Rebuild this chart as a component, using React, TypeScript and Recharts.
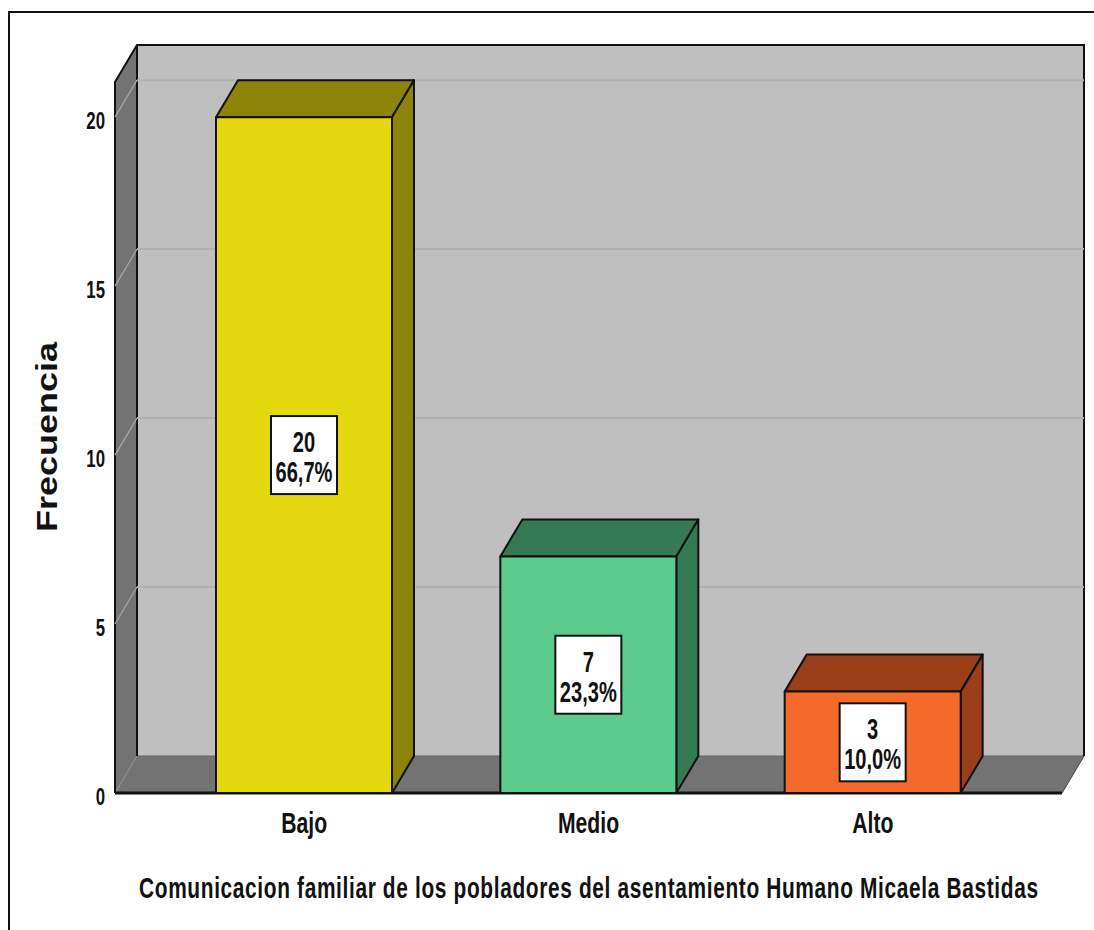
import React from "react";
import { ComposedChart, Bar, XAxis, YAxis, ReferenceArea, ReferenceLine, LabelList } from "recharts";

const categories = ["Bajo", "Medio", "Alto"];
const counts = [20, 7, 3];
const percents = ["66,7%", "23,3%", "10,0%"];
const yTicks = [0, 5, 10, 15, 20];
const yMax = 21.04;
const gridValues = [5, 10, 15, 20];
const frontColors = ["#e4d80e", "#5ccb8d", "#f46a2b"];
const darkColors = ["#8e8407", "#367a55", "#9a3f19"];
const yTitle = "Frecuencia";
const xTitle = "Comunicacion familiar de los pobladores del asentamiento Humano Micaela Bastidas";

const table = categories.map((name, i) => ({ name, count: counts[i], percent: percents[i] }));

const DX = 22;
const DY = 37;
const PAD = 47;
const FONT = "'Liberation Sans', Arial, sans-serif";
const INK = "#111";

const Condensed = ({ x, y, size, sx, anchor = "middle", children }: any) => (
  <text
    transform={`translate(${x},${y}) scale(${sx},1)`}
    textAnchor={anchor}
    fontFamily={FONT}
    fontWeight="bold"
    fontSize={size}
    fill={INK}
  >
    {children}
  </text>
);

const Walls = (p: any) => {
  const { x, y, width, height } = p;
  const left = x - PAD, right = x + width + PAD, top = y, bottom = y + height;
  const w = right - left;
  return (
    <g>
      <polygon points={`${left},${top} ${left + DX},${top - DY} ${left + DX},${bottom - DY} ${left},${bottom}`} fill="#737373" />
      <rect x={left + DX} y={top - DY} width={w} height={height} fill="#bfbfbf" />
      <polygon points={`${left},${bottom} ${left + DX},${bottom - DY} ${right + DX},${bottom - DY} ${right},${bottom}`} fill="#737373" stroke="#666" strokeWidth={1} />
      <line x1={left + DX} y1={bottom - DY} x2={left} y2={bottom} stroke="#999" strokeWidth={1} />
      <polyline points={`${left},${bottom} ${left},${top} ${left + DX},${top - DY} ${right + DX},${top - DY} ${right + DX},${bottom - DY}`} fill="none" stroke={INK} strokeWidth={2} />
      <line x1={left + DX} y1={top - DY} x2={left + DX} y2={bottom - DY} stroke={INK} strokeWidth={2} />
      <line x1={left} y1={bottom} x2={right} y2={bottom} stroke={INK} strokeWidth={3} />
      <line x1={right} y1={bottom} x2={right + DX} y2={bottom - DY} stroke="#555" strokeWidth={1} />
    </g>
  );
};

const GridShape = (p: any) => {
  const x1 = Number(p.x1), x2 = Number(p.x2), y1 = Number(p.y1);
  return (
    <g>
      <line x1={x1} y1={y1} x2={x1 + DX} y2={y1 - DY} stroke="#a8a8a8" strokeWidth={1.2} />
      <line x1={x1 + DX} y1={y1 - DY} x2={x2 + DX} y2={y1 - DY} stroke="#b0b0b0" strokeWidth={2} />
    </g>
  );
};

const Bar3D = (p: any) => {
  const { x, y, width, height, index } = p;
  const r = x + width, b = y + height;
  return (
    <g stroke={INK} strokeWidth={2} strokeLinejoin="round">
      <polygon points={`${x},${y} ${x + DX},${y - DY} ${r + DX},${y - DY} ${r},${y}`} fill={darkColors[index]} />
      <polygon points={`${r},${y} ${r + DX},${y - DY} ${r + DX},${b - DY} ${r},${b}`} fill={darkColors[index]} />
      <rect x={x} y={y} width={width} height={height} fill={frontColors[index]} />
    </g>
  );
};

const BoxLabel = (p: any) => {
  const { x, y, width, height, index, value } = p;
  const cx = x + width / 2, cy = y + height / 2;
  return (
    <g>
      <rect x={cx - 33} y={cy - 39} width={66} height={78} fill="#fff" stroke={INK} strokeWidth={2} />
      <Condensed x={cx} y={cy - 3} size={30} sx={0.67}>{value}</Condensed>
      <Condensed x={cx} y={cy + 27} size={30} sx={0.67}>{percents[index]}</Condensed>
    </g>
  );
};

const XTick = (p: any) => (
  <Condensed x={p.x} y={p.y + 28} size={29} sx={0.73}>{p.payload.value}</Condensed>
);

const YTick = (p: any) => (
  <Condensed x={p.x} y={p.y + 11.5} size={24} sx={0.7} anchor="end">{p.payload.value}</Condensed>
);

const XTitle = () => (
  <text
    transform="translate(139,898) scale(0.72,1)"
    textLength={899 / 0.72}
    lengthAdjust="spacing"
    fontFamily={FONT}
    fontWeight="bold"
    fontSize={29}
    fill={INK}
  >
    {xTitle}
  </text>
);

const YTitle = () => (
  <text transform="translate(57,437) rotate(-90)" textAnchor="middle" textLength={190} lengthAdjust="spacingAndGlyphs" fontFamily={FONT} fontWeight="bold" fontSize={29} fill={INK}>{yTitle}</text>
);

export default function App() {
  return (
    <div style={{ position: "absolute", left: 0, top: 0, width: 1094, height: 930, background: "#fff", overflow: "hidden" }}>
      <div style={{ position: "absolute", left: 8, top: 11, width: 1200, height: 1200, borderTop: "2px solid #111", borderLeft: "2px solid #111" }} />
      <ComposedChart
        width={1094}
        height={930}
        data={table}
        margin={{ top: 82, right: 32, bottom: 77, left: 55 }}
        style={{ position: "absolute", left: 0, top: 0 }}
      >
        <XAxis
          dataKey="name"
          padding={{ left: PAD, right: PAD }}
          axisLine={false}
          tickLine={false}
          tickSize={0}
          tickMargin={12}
          height={60}
          tick={<XTick />}
          label={{ content: <XTitle /> }}
        />
        <YAxis
          type="number"
          domain={[0, yMax]}
          ticks={yTicks}
          width={60}
          axisLine={false}
          tickLine={false}
          tickSize={0}
          tickMargin={10}
          interval={0}
          tick={<YTick />}
          label={{ content: <YTitle /> }}
        />
        <ReferenceArea y1={0} y2={yMax} ifOverflow="visible" zIndex={50} shape={<Walls />} />
        {gridValues.map((v) => (
          <ReferenceLine key={v} y={v} ifOverflow="visible" zIndex={150} shape={<GridShape />} />
        ))}
        <Bar dataKey="count" barSize={176} isAnimationActive={false} shape={<Bar3D />}>
          <LabelList dataKey="count" content={<BoxLabel />} />
        </Bar>
      </ComposedChart>
    </div>
  );
}
